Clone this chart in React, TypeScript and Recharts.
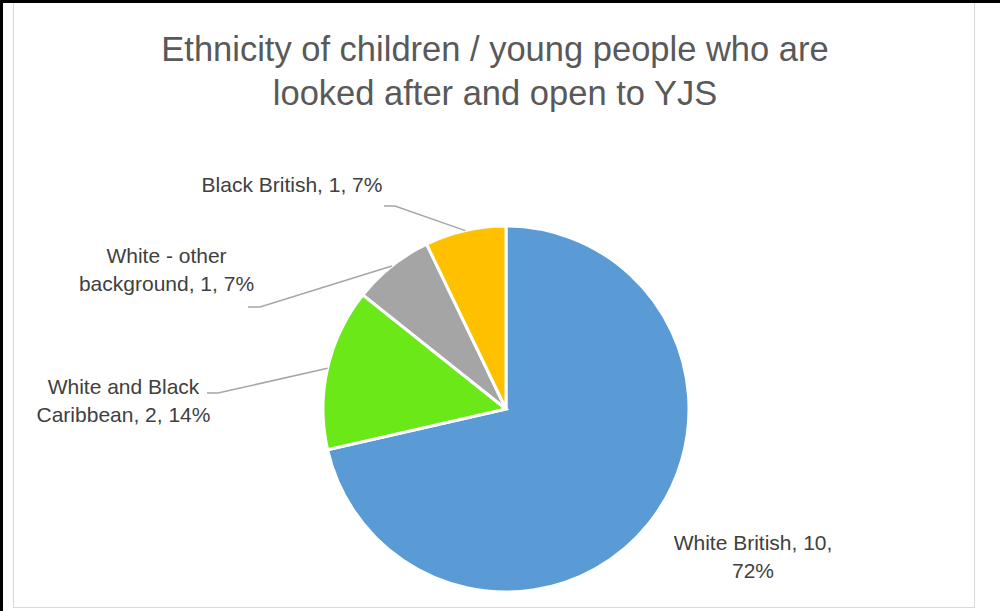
import React from "react";
import { PieChart, Pie, Cell } from "recharts";

const categories = [
  "White British",
  "White and Black Caribbean",
  "White - other background",
  "Black British",
];
const counts = [10, 2, 1, 1];
const percentLabels = ["72%", "14%", "7%", "7%"];
const colors = ["#5B9BD5", "#6BE817", "#A5A5A5", "#FFC000"];
const titleLines = [
  "Ethnicity of children / young people who are",
  "looked after and open to YJS",
];

// label placement (offsets from pie centre), not data
const labelLayout = [
  { dx: 247, dy: 141, firstLineWords: 3, leader: null },
  { dx: -382.5, dy: -15, firstLineWords: 3, leader: { sx: -299, sy: -16, ex: -288, ey: -16 } },
  { dx: -339.5, dy: -146, firstLineWords: 3, leader: { sx: -258, sy: -102, ex: -246, ey: -102 } },
  { dx: -214, dy: -217, firstLineWords: 0, leader: { sx: -122, sy: -203, ex: -111, ey: -203 } },
];

const data = categories.map((name, i) => ({
  name,
  value: counts[i],
  pct: percentLabels[i],
}));

const FONT = "'Liberation Sans', Arial, sans-serif";
const RAD = Math.PI / 180;

const renderLabel = (props: any) => {
  const { cx, cy, midAngle, outerRadius, index } = props;
  const lay = labelLayout[index];
  const d = data[index];
  const full = `${d.name}, ${d.value}, ${d.pct}`;
  const words = full.split(" ");
  const lines =
    lay.firstLineWords > 0
      ? [words.slice(0, lay.firstLineWords).join(" "), words.slice(lay.firstLineWords).join(" ")]
      : [full];
  const px = cx + outerRadius * Math.cos(-midAngle * RAD);
  const py = cy + outerRadius * Math.sin(-midAngle * RAD);
  return (
    <g key={`lbl-${index}`}>
      {lay.leader && (
        <polyline
          points={`${cx + lay.leader.sx},${cy + lay.leader.sy} ${cx + lay.leader.ex},${cy + lay.leader.ey} ${px},${py}`}
          fill="none"
          stroke="#A6A6A6"
          strokeWidth={1.5}
        />
      )}
      <text
        x={cx + lay.dx}
        y={cy + lay.dy}
        textAnchor="middle"
        fill="#404040"
        fontSize={21}
        fontFamily={FONT}
      >
        {lines.map((ln, i) => (
          <tspan key={i} x={cx + lay.dx} dy={i === 0 ? 0 : 28}>
            {ln}
          </tspan>
        ))}
      </text>
    </g>
  );
};

export default function App() {
  return (
    <div
      style={{
        position: "absolute",
        left: 0,
        top: 0,
        width: 1000,
        height: 611,
        background: "#fff",
        overflow: "hidden",
      }}
    >
      {/* outer black frame (top & left) */}
      <div style={{ position: "absolute", left: 0, top: 0, width: 1000, height: 3, background: "#000" }} />
      <div style={{ position: "absolute", left: 0, top: 0, width: 3, height: 611, background: "#000" }} />
      {/* chart area border */}
      <div
        style={{
          position: "absolute",
          left: 13,
          top: 3,
          width: 960,
          height: 604,
          border: "1px solid #D9D9D9",
          borderTop: "none",
        }}
      />
      <svg
        width={1000}
        height={120}
        style={{ position: "absolute", left: 0, top: 0 }}
      >
        {titleLines.map((t, i) => (
          <text
            key={i}
            x={495}
            y={61 + i * 44}
            textAnchor="middle"
            fill="#595959"
            fontSize={34.5}
            fontFamily={FONT}
          >
            {t}
          </text>
        ))}
      </svg>
      <div style={{ position: "absolute", left: 0, top: 0 }}>
        <PieChart width={1000} height={611} margin={{ top: 0, right: 0, bottom: 0, left: 0 }}>
          <Pie
            data={data}
            dataKey="value"
            nameKey="name"
            cx={506}
            cy={409}
            outerRadius={183}
            startAngle={90}
            endAngle={-270}
            stroke="#FFFFFF"
            strokeWidth={3}
            label={renderLabel}
            labelLine={false}
            isAnimationActive={false}
          >
            {data.map((d, i) => (
              <Cell key={d.name} fill={colors[i]} />
            ))}
          </Pie>
        </PieChart>
      </div>
    </div>
  );
}
